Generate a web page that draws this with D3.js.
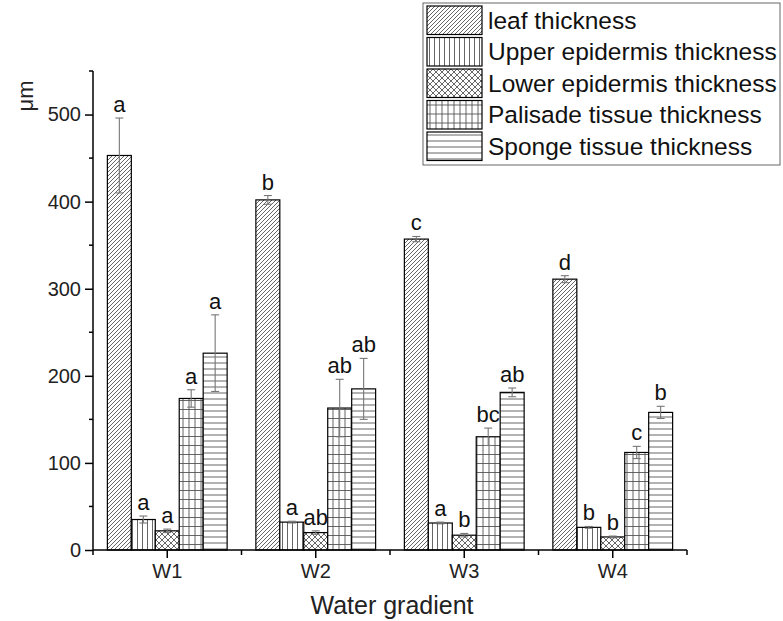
<!DOCTYPE html>
<html>
<head>
<meta charset="utf-8">
<script src="https://cdn.jsdelivr.net/npm/d3@7"></script>
<style>
  body { margin: 0; background: #fff; }
  svg { display: block; font-family: "Liberation Sans", Arial, sans-serif; }
</style>
</head>
<body>
<div id="chart"></div>
<script>
// values
const groups = ["W1", "W2", "W3", "W4"];
const seriesNames = [
  "leaf thickness",
  "Upper epidermis thickness",
  "Lower epidermis thickness",
  "Palisade tissue thickness",
  "Sponge tissue thickness",
];
const leafValues = [453, 402, 357, 311];
const leafErrors = [43, 5, 3, 4];
const leafLetters = ["a", "b", "c", "d"];
const upperValues = [35, 32, 31, 26];
const upperErrors = [4, 1, 1, 1];
const upperLetters = ["a", "a", "a", "b"];
const lowerValues = [22, 20, 17, 15];
const lowerErrors = [2, 2, 2, 1];
const lowerLetters = ["a", "ab", "b", "b"];
const palisadeValues = [174, 163, 130, 112];
const palisadeErrors = [10, 33, 10, 7];
const palisadeLetters = ["a", "ab", "bc", "c"];
const spongeValues = [226, 185, 181, 158];
const spongeErrors = [44, 35, 5, 7];
const spongeLetters = ["a", "ab", "ab", "b"];
const yTicks = [0, 100, 200, 300, 400, 500];

const series = [
  { name: seriesNames[0], values: leafValues, errors: leafErrors, letters: leafLetters, pat: "p-diag" },
  { name: seriesNames[1], values: upperValues, errors: upperErrors, letters: upperLetters, pat: "p-vert" },
  { name: seriesNames[2], values: lowerValues, errors: lowerErrors, letters: lowerLetters, pat: "p-cross" },
  { name: seriesNames[3], values: palisadeValues, errors: palisadeErrors, letters: palisadeLetters, pat: "p-grid" },
  { name: seriesNames[4], values: spongeValues, errors: spongeErrors, letters: spongeLetters, pat: "p-horiz" },
];

const width = 783, height = 621;
const plotLeft = 93, plotRight = 687, plotTop = 71, plotBottom = 550;

const svg = d3.select("#chart").append("svg")
  .attr("width", width)
  .attr("height", height);

// hatch patterns
const defs = svg.append("defs");
function pattern(id, w, h, paths) {
  const p = defs.append("pattern")
    .attr("id", id)
    .attr("patternUnits", "userSpaceOnUse")
    .attr("width", w)
    .attr("height", h);
  p.append("rect").attr("width", w).attr("height", h).attr("fill", "#fff");
  paths.forEach((d) => {
    p.append("path").attr("d", d).attr("stroke", "#555").attr("stroke-width", 0.9).attr("fill", "none");
  });
}
pattern("p-diag", 4, 4, ["M-1,1 l2,-2 M0,4 l4,-4 M3,5 l2,-2"]);
pattern("p-vert", 5, 5, ["M2.5,0 V5"]);
pattern("p-cross", 6, 6, ["M0,0 L6,6 M6,0 L0,6"]);
pattern("p-grid", 6, 9, ["M3,0 V9", "M0,4.5 H6"]);
pattern("p-horiz", 6, 6, ["M0,3 H6"]);

const x = d3.scaleBand().domain(groups).range([plotLeft, plotRight]);
const xs = d3.scaleBand()
  .domain(d3.range(series.length))
  .range([0, x.bandwidth()])
  .paddingOuter(0.6);
const y = d3.scaleLinear().domain([0, 550]).range([plotBottom, plotTop]);

// bars
const g = svg.append("g");
series.forEach((s, si) => {
  const bx = (i) => x(groups[i]) + xs(si);
  const bw = xs.bandwidth();
  g.selectAll(null)
    .data(s.values)
    .enter()
    .append("rect")
    .attr("x", (d, i) => bx(i))
    .attr("y", (d) => y(d))
    .attr("width", bw)
    .attr("height", (d) => y(0) - y(d))
    .attr("fill", "url(#" + s.pat + ")")
    .attr("stroke", "#000")
    .attr("stroke-width", 1.2);

  // error bars
  s.values.forEach((v, i) => {
    const cx = bx(i) + bw / 2;
    const e = s.errors[i];
    const eb = g.append("g").attr("stroke", "#777").attr("stroke-width", 1.1);
    eb.append("line").attr("x1", cx).attr("x2", cx).attr("y1", y(v + e)).attr("y2", y(v - e));
    eb.append("line").attr("x1", cx - 4).attr("x2", cx + 4).attr("y1", y(v + e)).attr("y2", y(v + e));
    eb.append("line").attr("x1", cx - 4).attr("x2", cx + 4).attr("y1", y(v - e)).attr("y2", y(v - e));
    g.append("text")
      .attr("x", cx)
      .attr("y", y(v + e) - 6)
      .attr("text-anchor", "middle")
      .attr("font-size", 22)
      .attr("fill", "#111")
      .text(s.letters[i]);
  });
});

// y axis
const yAxis = d3.axisLeft(y).tickValues(yTicks).tickSize(8).tickPadding(4);
const ya = svg.append("g").attr("transform", `translate(${plotLeft},0)`).call(yAxis);
ya.select(".domain").attr("d", `M0,${plotBottom}V${plotTop}`).attr("stroke-width", 1.5);
ya.selectAll(".tick line").attr("stroke-width", 1.5);
ya.selectAll("text").attr("font-size", 20).attr("fill", "#222");
const yMinor = d3.range(50, 551, 100);
ya.selectAll(".minor")
  .data(yMinor)
  .enter()
  .append("line")
  .attr("x1", -4)
  .attr("x2", 0)
  .attr("y1", (d) => y(d))
  .attr("y2", (d) => y(d))
  .attr("stroke", "#000")
  .attr("stroke-width", 1.5);

// x axis
const xAxis = d3.axisBottom(x).tickSize(8).tickPadding(6);
const xa = svg.append("g").attr("transform", `translate(0,${plotBottom})`).call(xAxis);
xa.select(".domain").attr("d", `M${plotLeft},0H${plotRight}`).attr("stroke-width", 1.5);
xa.selectAll(".tick line").attr("stroke-width", 1.5);
xa.selectAll("text").attr("font-size", 20).attr("fill", "#222");
xa.selectAll(".minor")
  .data(d3.range(groups.length + 1))
  .enter()
  .append("line")
  .attr("x1", (d) => plotLeft + d * x.step())
  .attr("x2", (d) => plotLeft + d * x.step())
  .attr("y1", 0)
  .attr("y2", 5)
  .attr("stroke", "#000")
  .attr("stroke-width", 1.5);

// axis titles
svg.append("text")
  .attr("x", (plotLeft + plotRight) / 2 + 2)
  .attr("y", 614)
  .attr("text-anchor", "middle")
  .attr("font-size", 25)
  .attr("fill", "#222")
  .text("Water gradient");
svg.append("text")
  .attr("transform", "translate(33,96) rotate(-90)")
  .attr("text-anchor", "middle")
  .attr("font-size", 22)
  .attr("fill", "#222")
  .text("μm");

// legend
const lg = svg.append("g").attr("transform", "translate(423,3)");
lg.append("rect")
  .attr("width", 357)
  .attr("height", 162)
  .attr("fill", "#fff")
  .attr("stroke", "#666")
  .attr("stroke-width", 1);
const rowH = 31.5;
const rows = lg.selectAll(".row")
  .data(series)
  .enter()
  .append("g")
  .attr("transform", (d, i) => `translate(4,${3 + i * rowH})`);
rows.append("rect")
  .attr("width", 55)
  .attr("height", rowH - 3)
  .attr("fill", (d) => "url(#" + d.pat + ")")
  .attr("stroke", "#000")
  .attr("stroke-width", 1.2);
rows.append("text")
  .attr("x", 61)
  .attr("y", rowH / 2 + 7)
  .attr("font-size", 24.5)
  .attr("fill", "#111")
  .text((d) => d.name);
</script>
</body>
</html>
